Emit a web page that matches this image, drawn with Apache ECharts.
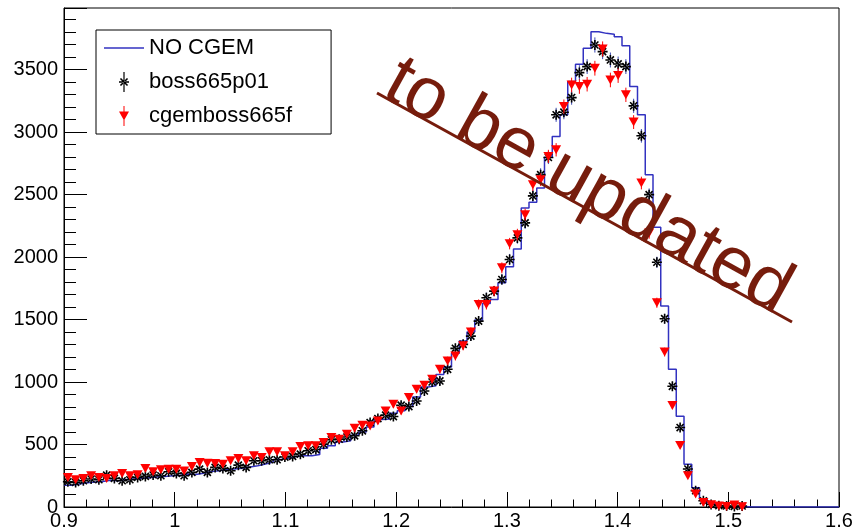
<!DOCTYPE html>
<html>
<head>
<meta charset="utf-8">
<script src="https://cdn.jsdelivr.net/npm/echarts@6/dist/echarts.min.js"></script>
<style>html,body{margin:0;padding:0;background:#fff}#c{width:859px;height:531px}</style>
</head>
<body>
<div id="c"></div>
<script>
// Histogram binning: 100 bins from 0.9 to 1.6
const binLow = 0.9;
const binWidth = 0.007;

// NO CGEM (blue step histogram)
const noCgem = [
  175, 185, 195, 200, 205, 215, 210, 220, 225, 230,
  235, 240, 245, 250, 255, 265, 260, 270, 285, 290,
  300, 305, 310, 320, 330, 345, 360, 380, 390, 405,
  410, 410, 420, 470, 490, 520, 530, 575, 600, 640,
  700, 705, 750, 770, 805, 880, 960, 970, 1060, 1120,
  1230, 1328, 1400, 1496, 1629, 1661, 1795, 1922, 2066, 2394,
  2439, 2553, 2800, 2966, 3139, 3405, 3544, 3671, 3804, 3791,
  3783, 3764, 3692, 3365, 3139, 2660, 2240, 1608, 1102, 726,
  343, 155, 64, 35, 12, 5, 3, 2, 0, 0,
  0, 0, 0, 0, 0, 0, 0, 0, 0, 0
];
// boss665p01 (black stars)
const boss = [
  202, 197, 210, 224, 218, 255, 229, 210, 218, 237,
  245, 256, 250, 282, 269, 250, 277, 303, 277, 317,
  309, 290, 335, 317, 370, 370, 378, 378, 400, 405,
  423, 450, 460, 503, 538, 543, 560, 570, 610, 676,
  708, 735, 724, 815, 804, 849, 929, 1001, 1009, 1102,
  1270, 1302, 1368, 1488, 1675, 1728, 1821, 1981, 2154, 2274,
  2490, 2660, 2798, 3139, 3160, 3277, 3477, 3525, 3698, 3645,
  3578, 3546, 3525, 3211, 2971, 2500, 1959, 1507, 966, 636,
  304, 130, 50, 20, 10, 8, 5, 8, 0, 0,
  0, 0, 0, 0, 0, 0, 0, 0, 0, 0
];
// cgemboss665f (red triangles)
const cgem = [
  237, 218, 229, 250, 237, 229, 250, 269, 250, 258,
  309, 282, 298, 303, 303, 288, 325, 357, 351, 349,
  343, 370, 389, 370, 410, 397, 442, 442, 410, 442,
  485, 490, 490, 517, 557, 543, 583, 631, 655, 649,
  689, 769, 823, 769, 876, 942, 974, 1022, 1102, 1169,
  1208, 1290, 1400, 1621, 1621, 1728, 1914, 2108, 2180, 2340,
  2580, 2620, 2806, 2859, 3205, 3378, 3365, 3384, 3512, 3666,
  3418, 3453, 3299, 3081, 2593, 2194, 1635, 1240, 812, 492,
  250, 104, 37, 19, 8, 5, 16, 3, 0, 0,
  0, 0, 0, 0, 0, 0, 0, 0, 0, 0
];
const seriesNames = ['NO CGEM', 'boss665p01', 'cgemboss665f'];
const xTicks = { min: 0.9, max: 1.6, interval: 0.1 };
const yTicks = { min: 0, max: 3994, interval: 500 };

const center = i => +(binLow + (i + 0.5) * binWidth).toFixed(5);
const edge = i => +(binLow + i * binWidth).toFixed(5);

const histData = noCgem.map((v, i) => [edge(i), v]);
histData.push([edge(noCgem.length), noCgem[noCgem.length - 1]]);

const pts = arr => arr.map((v, i) => v > 0 ? [center(i), v] : [center(i), null]);
const errs = arr => arr.map((v, i) => v > 0 ? [center(i), v, Math.sqrt(v)] : null).filter(Boolean);

const starPath = 'path://M-0.8,-5L0.8,-5L0.8,5L-0.8,5Z M-5,-0.8L5,-0.8L5,0.8L-5,0.8Z M-4.1,-2.97L-2.97,-4.1L4.1,2.97L2.97,4.1Z M-4.1,2.97L-2.97,4.1L4.1,-2.97L2.97,-4.1Z';
const starLegend = 'path://M-0.6,-10L0.6,-10L0.6,10L-0.6,10Z M-5,-0.8L5,-0.8L5,0.8L-5,0.8Z M-4.1,-2.97L-2.97,-4.1L4.1,2.97L2.97,4.1Z M-4.1,2.97L-2.97,4.1L4.1,-2.97L2.97,-4.1Z';
const triLegend = 'path://M-5,-4.5L5,-4.5L0,4.5Z M-0.5,-10L0.5,-10L0.5,10L-0.5,10Z';
const lineLegend = 'path://M0,-0.75L40,-0.75L40,0.75L0,0.75Z';

function errRender(color) {
  return function (params, api) {
    const x = api.value(0), v = api.value(1), e = api.value(2);
    const p1 = api.coord([x, v - e]);
    const p2 = api.coord([x, v + e]);
    return {
      type: 'line',
      shape: { x1: p1[0], y1: p1[1], x2: p2[0], y2: p2[1] },
      style: { stroke: color, lineWidth: 1 }
    };
  };
}

const font = 'Liberation Sans, Arial, Helvetica, sans-serif';
const chart = echarts.init(document.getElementById('c'), null, { renderer: 'canvas' });
chart.setOption({
  animation: false,
  backgroundColor: '#fff',
  grid: { left: 64, right: 20, top: 8, bottom: 23, show: true, borderColor: '#000', borderWidth: 1 },
  xAxis: {
    type: 'value', min: xTicks.min, max: xTicks.max, interval: xTicks.interval,
    axisLine: { lineStyle: { color: '#000', width: 1 } },
    axisTick: { inside: true, length: 15, lineStyle: { color: '#000' } },
    minorTick: { show: true, splitNumber: 5, length: 7.5, lineStyle: { color: '#000' } },
    splitLine: { show: false },
    axisLabel: { color: '#000', fontSize: 20, fontFamily: font, margin: 4, formatter: v => String(+v.toFixed(2)) }
  },
  yAxis: {
    type: 'value', min: yTicks.min, max: yTicks.max, interval: yTicks.interval,
    axisLine: { show: true, lineStyle: { color: '#000', width: 1 } },
    axisTick: { show: true, inside: true, length: 23, lineStyle: { color: '#000' } },
    minorTick: { show: true, splitNumber: 5, length: 12, lineStyle: { color: '#000' } },
    splitLine: { show: false },
    axisLabel: { color: '#000', fontSize: 20, fontFamily: font, margin: 6, showMaxLabel: false, formatter: v => String(v) }
  },
  legend: {
    data: [
      { name: seriesNames[0], icon: lineLegend },
      { name: seriesNames[1], icon: starLegend },
      { name: seriesNames[2], icon: triLegend }
    ],
    orient: 'vertical', left: 96, top: 30,
    itemWidth: 40, itemHeight: 20, itemGap: 12,
    padding: [7, 39, 7, 8],
    borderColor: '#000', borderWidth: 1, backgroundColor: '#fff',
    textStyle: { fontSize: 22, fontFamily: font, color: '#000', lineHeight: 20 },
    selectedMode: false
  },
  series: [
    {
      name: seriesNames[0], type: 'line', data: histData, step: 'end',
      showSymbol: false, symbol: 'none',
      lineStyle: { color: '#3232c0', width: 1.5 }, itemStyle: { color: '#3232c0' },
      z: 2
    },
    {
      name: 'boss_err', type: 'custom', data: errs(boss), renderItem: errRender('#3a48b0'),
      encode: { x: 0, y: 1 }, z: 3, silent: true
    },
    {
      name: seriesNames[1], type: 'scatter', data: pts(boss), symbol: starPath, symbolSize: 10,
      itemStyle: { color: '#000', opacity: 1 }, z: 4
    },
    {
      name: 'cgem_err', type: 'custom', data: errs(cgem), renderItem: errRender('#ff0000'),
      encode: { x: 0, y: 1 }, z: 5, silent: true
    },
    {
      name: seriesNames[2], type: 'scatter', data: pts(cgem), symbol: 'triangle', symbolRotate: 180,
      symbolSize: [10, 9], itemStyle: { color: '#ff0000', opacity: 1 }, z: 6
    }
  ],
  graphic: [
    {
      type: 'line', z: 100,
      shape: { x1: 377, y1: 93, x2: 792, y2: 322 },
      style: { stroke: '#761c0c', lineWidth: 3 }
    },
    {
      type: 'text', z: 100, x: 372, y: 110, rotation: -29 * Math.PI / 180,
      style: {
        text: 'to be updated', fill: '#761c0c',
        font: '74px Liberation Sans, Arial, sans-serif',
        textAlign: 'left', textVerticalAlign: 'bottom'
      }
    }
  ]
});
</script>
</body>
</html>
